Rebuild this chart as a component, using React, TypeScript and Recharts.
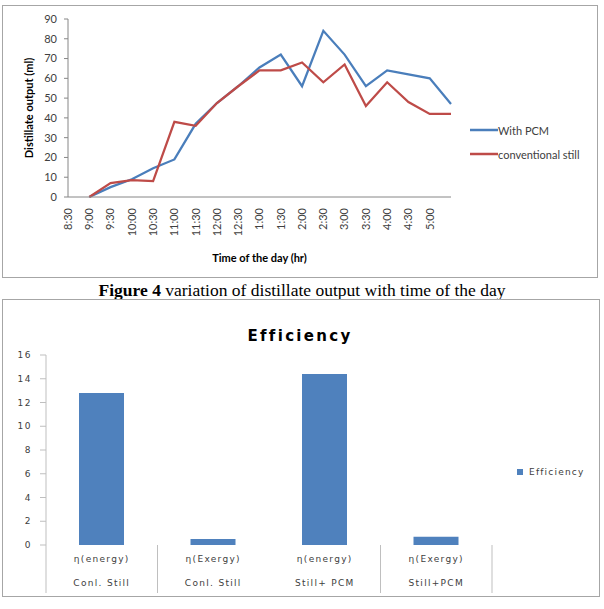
import React from 'react';
import { LineChart, Line, XAxis, YAxis, Legend, BarChart, Bar, Label } from 'recharts';

// ---- Distillate output over the day ----
const times = ['8:30', '9:00', '9:30', '10:00', '10:30', '11:00', '11:30', '12:00', '12:30', '1:00', '1:30', '2:00', '2:30', '3:00', '3:30', '4:00', '4:30', '5:00', '5:30'];
const timeTickLabels = ['8:30', '9:00', '9:30', '10:00', '10:30', '11:00', '11:30', '12:00', '12:30', '1:00', '1:30', '2:00', '2:30', '3:00', '3:30', '4:00', '4:30', '5:00', ''];
const withPcm = [null, 0, 5, 9, 14.5, 19, 37, 47.5, 56, 65.5, 72, 56, 84, 72, 56, 64, 62, 60, 47];
const conventionalStill = [null, 0, 7, 8.5, 8, 38, 36, 47.5, 56, 64, 64, 68, 58, 67, 46, 58, 48, 42, 42];
const distillateTicks = [0, 10, 20, 30, 40, 50, 60, 70, 80, 90];

// ---- Efficiency comparison ----
const efficiencyMeasures = ['η(energy)', 'η(Exergy)', 'η(energy)', 'η(Exergy)'];
const stillTypes = ['Conl. Still', 'Conl. Still', 'Still+ PCM', 'Still+PCM'];
const efficiencyValues = [12.8, 0.5, 14.4, 0.7];
const efficiencyTicks = [0, 2, 4, 6, 8, 10, 12, 14, 16];
// category boundaries (0 = left edge) that carry a group separator line
const groupBoundaries = [0, 1, 3, 4];

const BLUE = '#4a7ebb';
const RED = '#be4b48';
const BAR_BLUE = '#4f81bd';
const TEXT = '#404040';
const SANS = 'Lato, "Open Sans", sans-serif';
const VERD = '"DejaVu Sans", Verdana, sans-serif';

const lineData = times.map((t, i) => ({
  time: t,
  pcm: withPcm[i],
  conv: conventionalStill[i],
}));

const barData = efficiencyValues.map((v, i) => ({
  key: `${efficiencyMeasures[i]}|${stillTypes[i]}`,
  efficiency: v,
}));

// line chart layout
const LC_TOP = 5;
const LC_W = 596;
const LC_H = 273;
const LC_MARGIN = { top: 14, right: 147, left: 0, bottom: 21 };
const LC_YW = 66;
const LC_XH = 60;

// bar chart layout
const BC_TOP = 299;
const BC_W = 598;
const BC_H = 298;
const BC_MARGIN = { top: 56, right: 108, left: 0, bottom: 4 };
const BC_YW = 44;
const BC_XH = 48;
const BAND = (BC_W - BC_YW - BC_MARGIN.right - BC_MARGIN.left) / efficiencyValues.length;

const TimeTick = (props: any) => {
  const { x, y, index } = props;
  const label = timeTickLabels[index];
  if (!label) return <g />;
  return (
    <text
      x={x}
      y={y}
      transform={`rotate(-90 ${x} ${y})`}
      textAnchor="end"
      dy="0.35em"
      fontSize={11}
      fontFamily={SANS}
      fill={TEXT}
    >
      {label}
    </text>
  );
};

const CategoryTick = (props: any) => {
  const { x, y, index } = props;
  const half = BAND / 2;
  const last = efficiencyValues.length - 1;
  const sep = '#bfbfbf';
  return (
    <g>
      {groupBoundaries.includes(index) && (
        <line x1={x - half} x2={x - half} y1={y} y2={y + BC_XH} stroke={sep} strokeWidth={1} />
      )}
      {index === last && groupBoundaries.includes(index + 1) && (
        <line x1={x + half} x2={x + half} y1={y} y2={y + BC_XH} stroke={sep} strokeWidth={1} />
      )}
      <text x={x} y={y + 17} textAnchor="middle" fontSize={9} letterSpacing={1.3} fontFamily={VERD} fill={TEXT}>
        {efficiencyMeasures[index]}
      </text>
      <text x={x} y={y + 41} textAnchor="middle" fontSize={9} letterSpacing={1.3} fontFamily={VERD} fill={TEXT}>
        {stillTypes[index]}
      </text>
    </g>
  );
};

const SeriesLegend = (props: any) => (
  <div style={{ fontFamily: SANS, fontSize: 11, color: TEXT }}>
    {(props.payload || []).map((p: any) => (
      <div key={p.value} style={{ display: 'flex', alignItems: 'center', height: 24 }}>
        <svg width={28} height={4} style={{ display: 'block' }}>
          <line x1={0} x2={28} y1={2} y2={2} stroke={p.color} strokeWidth={2.5} />
        </svg>
        <span style={{ whiteSpace: 'nowrap' }}>{p.value}</span>
      </div>
    ))}
  </div>
);

const EfficiencyLegend = (props: any) => (
  <div style={{ fontFamily: VERD, fontSize: 9, letterSpacing: 1.2, color: TEXT }}>
    {(props.payload || []).map((p: any) => (
      <div key={p.value} style={{ display: 'flex', alignItems: 'center', height: 14 }}>
        <span style={{ display: 'inline-block', width: 6, height: 6, background: p.color, marginRight: 6 }} />
        <span style={{ whiteSpace: 'nowrap' }}>{p.value}</span>
      </div>
    ))}
  </div>
);

const frame = (top: number, width: number, height: number): React.CSSProperties => ({
  position: 'absolute',
  left: 2,
  top,
  width,
  height,
  boxSizing: 'border-box',
  border: '1px solid #a6a6a6',
  pointerEvents: 'none',
});

export default function App() {
  return (
    <div style={{ position: 'absolute', left: 0, top: 0, width: 604, height: 609, background: '#fff', overflow: 'hidden' }}>
      {/* distillate output chart */}
      <div style={{ position: 'absolute', left: 2, top: LC_TOP, width: LC_W, height: LC_H }}>
        <LineChart width={LC_W} height={LC_H} data={lineData} margin={LC_MARGIN}>
          <XAxis
            dataKey="time"
            interval={0}
            height={LC_XH}
            axisLine={{ stroke: '#868686' }}
            tickLine={false}
            tickSize={0}
            tickMargin={11}
            tick={<TimeTick />}
          >
            <Label
              content={(p: any) => {
                const vb = p.viewBox || {};
                return (
                  <text
                    x={vb.x + vb.width / 2}
                    y={vb.y + 60}
                    textAnchor="middle"
                    dominantBaseline="central"
                    fontSize={11}
                    fontWeight="bold"
                    fontFamily={SANS}
                    fill="#000"
                  >
                    Time of the day (hr)
                  </text>
                );
              }}
            />
          </XAxis>
          <YAxis
            width={LC_YW}
            domain={[0, 90]}
            ticks={distillateTicks}
            interval={0}
            axisLine={{ stroke: '#868686' }}
            tickLine={{ stroke: '#868686' }}
            tickSize={4}
            tickMargin={7}
            tick={{ fontSize: 11, fontFamily: SANS, fill: TEXT }}
          >
            <Label
              content={(p: any) => {
                const vb = p.viewBox || {};
                const cx = 26;
                const cy = vb.y + vb.height / 2;
                return (
                  <text
                    x={cx}
                    y={cy}
                    transform={`rotate(-90 ${cx} ${cy})`}
                    textAnchor="middle"
                    dominantBaseline="central"
                    fontSize={11}
                    fontWeight="bold"
                    fontFamily={SANS}
                    fill="#000"
                  >
                    Distillate output (ml)
                  </text>
                );
              }}
            />
          </YAxis>
          <Legend
            layout="horizontal"
            verticalAlign="middle"
            align="center"
            wrapperStyle={{ left: 468, top: 113, width: 'auto' }}
            content={<SeriesLegend />}
          />
          <Line
            type="linear"
            dataKey="pcm"
            name="With PCM"
            stroke={BLUE}
            strokeWidth={2.25}
            dot={false}
            activeDot={false}
            isAnimationActive={false}
          />
          <Line
            type="linear"
            dataKey="conv"
            name="conventional still"
            stroke={RED}
            strokeWidth={2.25}
            dot={false}
            activeDot={false}
            isAnimationActive={false}
          />
        </LineChart>
      </div>
      <div style={frame(LC_TOP, LC_W, LC_H)} />

      {/* caption */}
      <div
        style={{
          position: 'absolute',
          left: 0,
          top: 279,
          width: 604,
          height: 22,
          lineHeight: '22px',
          textAlign: 'center',
          fontFamily: '"Liberation Serif", "Times New Roman", serif',
          fontSize: 17.5,
          color: '#000',
          whiteSpace: 'nowrap',
        }}
      >
        <b>Figure 4</b> variation of distillate output with time of the day
      </div>

      {/* efficiency chart */}
      <div style={{ position: 'absolute', left: 2, top: BC_TOP, width: BC_W, height: BC_H }}>
        <BarChart width={BC_W} height={BC_H} data={barData} margin={BC_MARGIN}>
          <text
            x={298}
            y={37}
            textAnchor="middle"
            dominantBaseline="central"
            fontSize={15}
            fontWeight="bold"
            letterSpacing={2.3}
            fontFamily={VERD}
            fill="#000"
          >
            Efficiency
          </text>
          <XAxis
            dataKey="key"
            interval={0}
            height={BC_XH}
            axisLine={false}
            tickLine={false}
            tickSize={0}
            tickMargin={0}
            tick={<CategoryTick />}
          />
          <YAxis
            width={BC_YW}
            domain={[0, 16]}
            ticks={efficiencyTicks}
            interval={0}
            axisLine={{ stroke: '#bfbfbf' }}
            tickLine={{ stroke: '#bfbfbf' }}
            tickSize={6}
            tickMargin={8}
            tick={{ fontSize: 9, fontFamily: VERD, fill: TEXT, letterSpacing: 1.5 }}
          />
          <Legend
            layout="horizontal"
            verticalAlign="middle"
            align="center"
            wrapperStyle={{ left: 515, top: 166, width: 'auto' }}
            content={<EfficiencyLegend />}
          />
          <Bar dataKey="efficiency" name="Efficiency" fill={BAR_BLUE} barSize={45} isAnimationActive={false} />
        </BarChart>
      </div>
      <div style={frame(BC_TOP, BC_W, BC_H)} />
    </div>
  );
}
